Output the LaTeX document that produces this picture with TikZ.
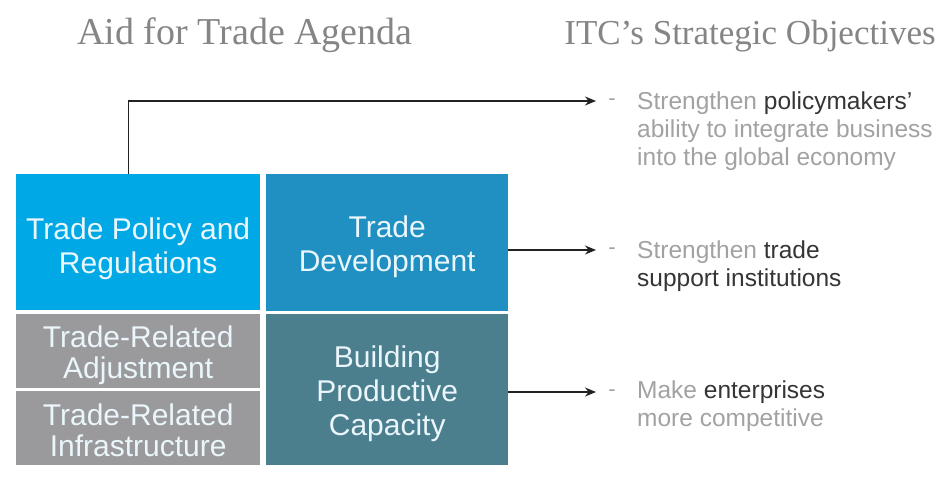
\documentclass[tikz,border=0pt]{standalone}
\usepackage{fontspec}
\setmainfont{Liberation Sans}
\newfontfamily\titlefont{Liberation Serif}
\usetikzlibrary{arrows.meta}
\definecolor{cpolicy}{HTML}{00A9E6}
\definecolor{cdev}{HTML}{1F90C1}
\definecolor{cbuild}{HTML}{4B7F8E}
\definecolor{cgrey}{HTML}{9A9A9C}
\definecolor{cboxtext}{HTML}{EAF6FB}
\definecolor{clight}{HTML}{A2A2A2}
\definecolor{cdark}{HTML}{353535}
\definecolor{ctitle}{HTML}{858585}
\definecolor{cline}{HTML}{222222}
\newcommand\firstlinelift[1]{\rule{0pt}{#1}}
\tikzset{
  agbox/.style={draw=none, inner sep=0pt, text=cboxtext, align=center,
    anchor=north west, font=\fontsize{30}{34}\selectfont},
  objtext/.style={anchor=west, align=left, inner sep=0pt, text=clight,
    font=\fontsize{24.5}{28}\selectfont},
  dashmark/.style={inner sep=0pt, text=clight, font=\fontsize{22}{26}\selectfont},
  heading/.style={anchor=base, inner sep=0pt, text=ctitle},
  link/.style={draw=cline, line width=1.4pt, -{Stealth[length=11pt,width=9pt]}}
}
\begin{document}
\begin{tikzpicture}[x=1pt,y=-1pt]
\useasboundingbox[fill=white] (0,0) rectangle (950,489);

% headings
\node[heading, font=\titlefont\fontsize{38}{44}\selectfont] (h1) at (245,45) {Aid for Trade Agenda};
\node[heading, font=\titlefont\fontsize{35}{42}\selectfont] (h2) at (750,45) {ITC’s Strategic Objectives};

% boxes
\node[agbox, fill=cpolicy, minimum width=244pt, minimum height=136pt] (tp) at (16,174) {\firstlinelift{34pt}Trade Policy and\\Regulations};
\node[agbox, fill=cdev, minimum width=242pt, minimum height=137pt] (td) at (266,174) {\firstlinelift{30pt}Trade\\Development};
\node[agbox, fill=cgrey, minimum width=244pt, minimum height=74pt, font=\fontsize{30}{31}\selectfont] (ta) at (16,314) {\firstlinelift{30pt}Trade-Related\\Adjustment};
\node[agbox, fill=cgrey, minimum width=244pt, minimum height=74pt, font=\fontsize{30}{31}\selectfont] (ti) at (16,391) {\firstlinelift{25pt}Trade-Related\\Infrastructure};
\node[agbox, fill=cbuild, minimum width=242pt, minimum height=151pt] (bp) at (266,314) {\firstlinelift{30pt}Building\\Productive\\Capacity};

% dashes
\node[dashmark] (d1) at (612,102) {-};
\node[dashmark] (d2) at (612,251) {-};
\node[dashmark] (d3) at (612,393) {-};

% objective texts
\node[objtext] (o1) at (637,131) {Strengthen \textcolor{cdark}{policymakers’}\\ability to integrate business\\into the global economy};
\node[objtext] (o2) at (637,266) {Strengthen \textcolor{cdark}{trade}\\\textcolor{cdark}{support institutions}};
\node[objtext] (o3) at (637,406) {Make \textcolor{cdark}{enterprises}\\more competitive};

% arrow end points
\coordinate (e1) at (596,101);
\coordinate (e2) at (596,250);
\coordinate (e3) at (596,392);

% connectors
\draw[link] ([xshift=-10pt]tp.north) |- (e1);
\draw[link] (td.east |- e2) -- (e2);
\draw[link] (bp.east |- e3) -- (e3);
\end{tikzpicture}
\end{document}
